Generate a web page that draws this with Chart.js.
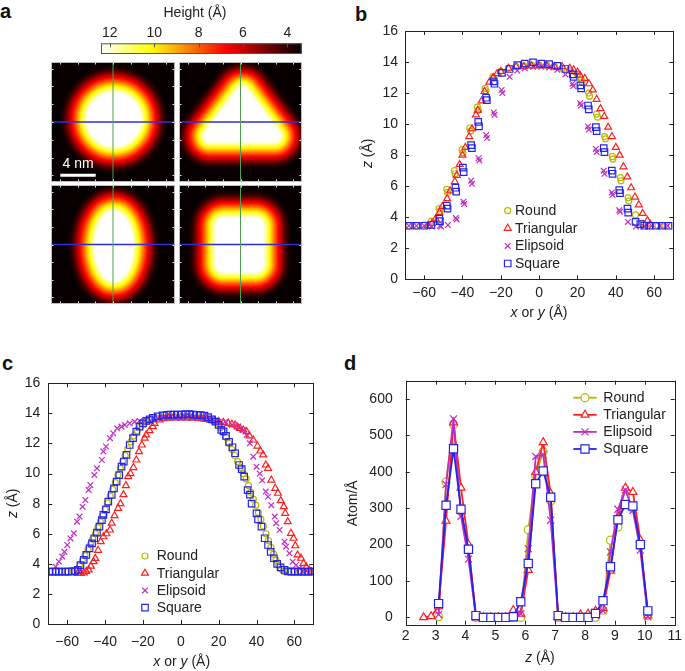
<!DOCTYPE html>
<html>
<head>
<meta charset="utf-8">
<script src="https://cdn.jsdelivr.net/npm/chart.js@4.4.1/dist/chart.umd.min.js"></script>
<style>
  body { margin: 0; background: #fff; }
  #fig { position: relative; width: 685px; height: 671px; overflow: hidden; }
  #fig canvas { position: absolute; }
  .lbl { position: absolute; font: bold 20px "Liberation Sans", Arial, sans-serif; line-height: 1; color: #111; }
</style>
</head>
<body>
<div id="fig">
  <div class="lbl" style="left:0px;top:1px">a</div>
  <div class="lbl" style="left:355px;top:4px">b</div>
  <div class="lbl" style="left:2px;top:353px">c</div>
  <div class="lbl" style="left:344px;top:353px">d</div>
  <canvas id="cbar" width="220" height="60" style="left:90px;top:0px;width:220px;height:60px"></canvas>
  <canvas id="map0" width="124" height="120" style="left:51px;top:62px;width:124px;height:120px"></canvas>
  <canvas id="map1" width="123" height="120" style="left:179px;top:62px;width:123px;height:120px"></canvas>
  <canvas id="map2" width="124" height="119" style="left:51px;top:185px;width:124px;height:119px"></canvas>
  <canvas id="map3" width="123" height="119" style="left:179px;top:185px;width:123px;height:119px"></canvas>
  <canvas id="chartB" width="345" height="330" style="left:340px;top:0px;width:345px;height:330px"></canvas>
  <canvas id="chartC" width="340" height="341" style="left:0px;top:330px;width:340px;height:341px"></canvas>
  <canvas id="chartD" width="345" height="341" style="left:340px;top:330px;width:345px;height:341px"></canvas>
</div>
<script>
const FONT = '"Liberation Sans", Arial, Helvetica, sans-serif';
const INK = "#222";

// ---------- panel a: colour bar + height maps ----------
const cbarMin = 3.35, cbarMax = 12.4;
const cbarTicks = [12, 10, 8, 6, 4];
const mapTicks = [-60, -40, -20, 0, 20, 40, 60];
// height (Å) against distance (Å) outside the white plateau, read from the Round profile
const edgeDist = [0, 4, 8, 12, 16, 20, 24, 28, 32];
const edgeHeight = [12.3, 11.0, 9.7, 8.3, 7.0, 5.75, 4.5, 3.75, 3.45];
const plateauHeight = 13.9;
// white-plateau outlines in Å (polygons get rounded by `round`)
const mapShapes = [
  { kind: "ellipse", cx: 1, cy: 3, rx: 30, ry: 30 },
  { kind: "polygon", pts: [[2, 33], [-35, -16], [39, -16]], round: 6 },
  { kind: "ellipse", cx: 1, cy: -2, rx: 21, ry: 39 },
  { kind: "polygon", pts: [[-19, 21], [17, 21], [17, -22], [-19, -22]], round: 9 },
];
const scaleBarX = [-59.5, -19.5];
const scaleBarY = -60;

// ---------- panel b ----------
const seriesNames = ["Round", "Triangular", "Elipsoid", "Square"];
const bRound = [[-68,3.45],[-64,3.45],[-60,3.5],[-56.2,3.75],[-52.2,4.55],[-51.8,4.4],[-48.2,5.8],[-47.8,5.6],[-44.2,7.0],[-43.8,6.8],[-40.2,8.35],[-39.8,8.15],[-36.2,9.75],[-35.8,9.55],[-32.2,11.1],[-31.8,10.9],[-28.2,12.3],[-27.8,12.15],[-24.2,13.05],[-23.8,12.95],[-20,13.4],[-16,13.6],[-12,13.7],[-8,13.75],[-4,13.8],[0,13.8],[4,13.8],[8,13.7],[12,13.6],[16,13.45],[20,13.2],[22,12.85],[22.4,12.7],[25.8,12.0],[26.3,11.8],[30,10.65],[30.5,10.45],[34.2,9.2],[34.6,9.05],[38.2,7.9],[38.5,7.75],[42.4,6.55],[42.7,6.35],[46.4,5.25],[46.8,5.05],[50.3,4.15],[54,3.6],[58,3.45],[62,3.45],[66,3.45]];
const bTri = [[-58,3.45],[-56,3.6],[-54,3.9],[-52,4.3],[-50.5,4.7],[-48,5.2],[-46.5,5.7],[-44,6.3],[-43,6.7],[-41.5,7.4],[-40,8.0],[-38.5,8.5],[-36.5,9.2],[-35,9.7],[-33,10.6],[-32,10.9],[-30,11.5],[-28.5,12.1],[-26,12.7],[-24,13.0],[-22,13.25],[-20,13.4],[-16,13.6],[-12,13.7],[-8,13.7],[-4,13.75],[0,13.75],[4,13.75],[8,13.7],[12,13.7],[16,13.6],[18,13.5],[20,13.35],[21.3,13.15],[23.8,12.95],[26,12.6],[28,12.2],[30,11.6],[32,11.0],[34,10.5],[36,9.8],[38,9.2],[40,8.5],[42,8.0],[44,7.25],[46,6.6],[48,5.9],[50,5.3],[52,4.8],[54,4.25],[56.5,3.8],[58,3.55]];
const bEll = [[-68,3.45],[-64,3.45],[-60,3.45],[-56,3.4],[-51.8,3.45],[-51.2,3.4],[-47.6,3.5],[-43.5,3.95],[-43.1,3.85],[-39.5,5.0],[-39.1,4.85],[-35.5,6.35],[-35.1,6.15],[-31.6,7.8],[-31.2,7.65],[-27.6,9.3],[-27.2,9.1],[-23.7,10.75],[-23.3,10.6],[-19.6,12.2],[-19.2,12.0],[-15.4,13.05],[-11.4,13.45],[-7.5,13.6],[-3.2,13.7],[1.1,13.7],[5.2,13.65],[9.5,13.5],[13.7,13.2],[17.4,12.6],[17.8,12.45],[21.4,11.35],[21.8,11.2],[25.5,9.85],[25.9,9.65],[29.6,8.4],[30,8.2],[33.7,7.0],[34.1,6.8],[37.9,5.6],[38.3,5.45],[41.8,4.45],[42.2,4.35],[46.3,3.7],[50.5,3.4],[54.8,3.4],[58.8,3.45],[63,3.45],[67,3.45]];
const bSq = [[-68,3.45],[-64,3.45],[-60,3.45],[-56.2,3.5],[-52.2,3.9],[-51.8,3.75],[-48.2,4.75],[-47.8,4.55],[-43.7,5.9],[-43.3,5.65],[-39.8,7.2],[-39.4,6.9],[-35.5,8.65],[-35.1,8.45],[-31.8,10.15],[-31.4,9.85],[-27.7,11.7],[-27.3,11.55],[-23.7,12.75],[-23.3,12.6],[-19.4,13.3],[-15.4,13.55],[-11.4,13.8],[-7.5,13.9],[-3.2,13.98],[1.1,13.9],[5.2,13.87],[9.5,13.75],[13.7,13.55],[17.6,13.2],[18,13.05],[21.5,12.5],[21.9,12.3],[25.5,11.2],[25.9,10.95],[29.6,9.8],[30,9.55],[33.7,8.45],[34.1,8.2],[37.9,7.0],[38.3,6.8],[41.8,5.75],[42.2,5.55],[46.1,4.55],[46.5,4.3],[50.3,3.7],[52.8,3.55],[54.8,3.45],[57.5,3.45],[61,3.45],[64,3.45],[67.5,3.45]];

// ---------- panel c ----------
const cRound = [[-69,3.48],[-66,3.48],[-63,3.48],[-60,3.48],[-57,3.5],[-54.8,3.62],[-53.5,3.85],[-52,4.2],[-50.6,4.55],[-49,4.95],[-47.7,5.3],[-46.5,5.65],[-45.1,6.0],[-43.8,6.4],[-42.5,6.8],[-41.2,7.2],[-40,7.6],[-38.8,8.05],[-37.3,8.5],[-36,8.95],[-34.6,9.4],[-33.2,9.9],[-32,10.35],[-30.7,10.8],[-29.4,11.2],[-28,11.65],[-26.4,12.1],[-24.8,12.5],[-23,12.85],[-21.3,13.1],[-19.5,13.3],[-17.5,13.45],[-15.5,13.55],[-12.5,13.65],[-9.5,13.7],[-6.5,13.72],[-3.5,13.75],[-0.5,13.75],[2.5,13.75],[5.5,13.75],[8.5,13.72],[11.5,13.7],[14.5,13.6],[17.5,13.5],[19.5,13.3],[21,13.05],[22.5,12.75],[24,12.4],[25.5,12.0],[27,11.6],[28.5,11.2],[30,10.8],[31.5,10.4],[33,10.0],[34.5,9.65],[35.8,9.2],[37,8.75],[38.3,8.3],[39.6,7.9],[41,7.4],[42.3,6.95],[43.6,6.5],[45,6.0],[46.3,5.55],[47.6,5.1],[49,4.65],[50.3,4.25],[51.7,3.9],[53,3.65],[54.5,3.5],[57,3.48],[60,3.48],[63,3.48],[66,3.48],[69,3.48]];
const cTri = [[-54.5,3.37],[-53,3.37],[-51.3,3.4],[-50,3.5],[-48.7,3.6],[-47.5,3.85],[-46.1,4.14],[-45.2,4.36],[-43.7,4.9],[-42.3,5.47],[-40.9,5.8],[-39.3,6.0],[-37.4,6.25],[-36.5,6.7],[-35,7.2],[-33.1,7.69],[-31.9,8.0],[-30.3,8.6],[-29,9.2],[-27.8,9.8],[-26.6,10.0],[-25,10.4],[-23.5,10.9],[-22.1,11.46],[-20.6,11.9],[-19.1,12.35],[-18.3,12.57],[-16.5,12.85],[-14.8,13.12],[-13.9,13.34],[-11.3,13.56],[-9,13.65],[-6.5,13.7],[-4,13.72],[-1.5,13.72],[1,13.72],[3.5,13.72],[6,13.7],[8.5,13.7],[11,13.65],[13.5,13.6],[16,13.55],[18,13.5],[20,13.45],[22.5,13.4],[25.2,13.34],[27,13.28],[28.7,13.23],[30,13.1],[31.3,13.0],[33,12.9],[34.8,12.79],[36.3,12.5],[38.3,12.23],[40.5,11.83],[42,11.5],[43.5,11.24],[44.9,10.57],[46.1,10.35],[47.8,9.57],[49.9,9.02],[51.3,8.69],[52.8,8.2],[54.4,7.8],[55.2,7.36],[56.5,6.8],[58.2,6.03],[59.6,5.7],[60.5,5.2],[61.7,4.59],[63.5,4.37],[64.8,4.03],[66.3,3.8],[67.8,3.6],[69.1,3.48]];
const cEll = [[-66.1,3.81],[-64.4,4.14],[-62.6,4.48],[-61.5,4.8],[-60,5.25],[-58.3,5.69],[-56.5,6.03],[-54.8,6.8],[-53.5,7.14],[-51.9,7.8],[-50.4,8.24],[-48.7,8.91],[-47.8,9.24],[-45.7,9.9],[-44.3,10.35],[-41.7,10.9],[-40.9,11.46],[-39.5,11.8],[-37.4,12.35],[-35.7,12.68],[-33.6,13.01],[-31.3,13.12],[-29.6,13.23],[-27,13.34],[-24.4,13.45],[-21.8,13.5],[-18.3,13.56],[-15,13.65],[-12,13.68],[-9,13.7],[-6,13.7],[-3,13.7],[0,13.7],[3,13.7],[6,13.7],[9,13.68],[12,13.65],[15,13.6],[18,13.5],[20,13.45],[23.5,13.45],[27,13.23],[30.4,13.12],[33,12.9],[34.8,12.57],[36.5,12.01],[38.3,11.12],[40,10.46],[41.7,10.0],[43,9.55],[44.9,8.8],[46.1,8.46],[47.8,7.9],[49.6,7.14],[50.4,6.7],[52.2,6.25],[54.8,5.47],[55.6,5.14],[57.4,4.7],[59.1,4.14],[60.9,3.92],[62.6,3.7],[64.3,3.5]];
const cSq = [[-69.5,3.48],[-67.8,3.48],[-66.1,3.48],[-64.4,3.48],[-62.7,3.48],[-61,3.48],[-59.3,3.48],[-57.6,3.5],[-55.9,3.52],[-54.4,3.6],[-53,3.92],[-51.3,4.26],[-49.9,4.59],[-48.2,5.03],[-46.9,5.36],[-45.7,5.7],[-44.3,6.07],[-43,6.47],[-41.7,6.9],[-40.9,7.25],[-39.5,7.62],[-38.3,8.13],[-36.5,8.58],[-35.3,9.02],[-33.9,9.46],[-32.5,9.9],[-31.3,10.46],[-30.1,10.8],[-28.7,11.24],[-27,11.9],[-25.2,12.35],[-23.5,12.79],[-21.8,13.12],[-20,13.34],[-18.3,13.5],[-16.5,13.6],[-14.8,13.7],[-12.2,13.8],[-9.6,13.87],[-7.5,13.9],[-5.5,13.92],[-3.5,13.92],[-1.5,13.92],[0.5,13.92],[2.5,13.95],[4.5,13.95],[6.5,13.92],[8.5,13.9],[10.5,13.88],[12.5,13.85],[14.5,13.75],[16.5,13.6],[18.3,13.45],[20,13.23],[21.4,12.9],[22.6,12.8],[23.9,12.5],[25.5,12.1],[27.3,11.75],[28.7,11.35],[30.8,10.57],[32.2,10.3],[33.5,9.8],[35.3,8.9],[36.5,8.6],[37.4,8.0],[40,7.36],[40.8,6.96],[42.6,6.47],[44.3,5.7],[46.1,5.25],[47.5,4.8],[49.2,4.37],[50.9,4.0],[52.7,3.77],[54.8,3.6],[56.6,3.5],[58.4,3.48],[60.2,3.48],[62,3.48],[63.8,3.48],[65.6,3.48],[67.4,3.48],[69.2,3.48]];
const xyTicksX = [-60, -40, -20, 0, 20, 40, 60];
const xyTicksY = [0, 2, 4, 6, 8, 10, 12, 14, 16];

// ---------- panel d ----------
const dZ = [2.6, 2.85, 3.1, 3.35, 3.6, 3.85, 4.1, 4.35, 4.6, 4.85, 5.1, 5.35, 5.6, 5.85, 6.1, 6.35, 6.6, 6.85, 7.1, 7.35, 7.6, 7.85, 8.1, 8.35, 8.6, 8.85, 9.1, 9.35, 9.6, 9.85, 10.1];
const dRound = [null, null, 2, 372, 530, 290, 190, 0, 0, 0, 0, 0, 0, 0, 241, 390, 455, 320, 0, 0, 0, 0, 0, 0, 20, 212, 248, 330, 300, 195, 5];
const dTri = [0, 3, 30, 265, 535, 356, 200, 0, 0, 0, 0, 0, 20, 10, 130, 399, 481, 340, 0, 0, 0, 8, 10, 18, 25, 128, 275, 356, 344, 212, 5];
const dEll = [null, null, 8, 365, 545, 278, 160, 0, 0, 0, 0, 0, 0, 10, 189, 442, 447, 267, 0, 0, 0, 0, 0, 5, 18, 180, 297, 350, 294, 185, 2];
const dSq = [null, null, 38, 308, 463, 297, 187, 5, 0, 0, 0, 0, 2, 43, 148, 367, 402, 330, 5, 0, 0, 0, 0, 11, 46, 139, 268, 310, 306, 200, 18];
const dTicksX = [2, 3, 4, 5, 6, 7, 8, 9, 10, 11];
const dTicksY = [0, 100, 200, 300, 400, 500, 600];

// ---------- helpers ----------
const clamp = (v, a, b) => Math.max(a, Math.min(b, v));
function hot(t) {
  t = clamp(t, 0, 1);
  const r = clamp(t / 0.375, 0, 1), g = clamp((t - 0.375) / 0.375, 0, 1), b = clamp((t - 0.75) / 0.25, 0, 1);
  return `rgb(${Math.round(r * 255)},${Math.round(g * 255)},${Math.round(b * 255)})`;
}
const heightColor = h => hot((h - cbarMin) / (cbarMax - cbarMin));
function edgeH(d) {
  for (let i = 1; i < edgeDist.length; i++) {
    if (d <= edgeDist[i]) {
      const f = (d - edgeDist[i - 1]) / (edgeDist[i] - edgeDist[i - 1]);
      return edgeHeight[i - 1] + f * (edgeHeight[i] - edgeHeight[i - 1]);
    }
  }
  return edgeHeight[edgeHeight.length - 1];
}
const fmt = v => (v < 0 ? "\u2212" + Math.abs(v) : String(v));
const toXY = arr => arr.map(([x, y]) => ({ x, y }));
const zipZ = vals => dZ.map((z, i) => (vals[i] == null ? null : { x: z, y: vals[i] })).filter(Boolean);
const fixTicks = list => s => { s.ticks = list.map(v => ({ value: v })); };

function drawRich(ctx, item) {
  ctx.save();
  ctx.translate(item.x, item.y);
  if (item.rot) ctx.rotate(item.rot);
  const fonts = item.parts.map(p => `${p.i ? "italic " : ""}${item.size || 14}px ${FONT}`);
  const widths = item.parts.map((p, k) => { ctx.font = fonts[k]; return ctx.measureText(p.t).width; });
  let x = -widths.reduce((a, b) => a + b, 0) / 2;
  ctx.fillStyle = item.color || INK;
  ctx.textBaseline = "middle";
  item.parts.forEach((p, k) => { ctx.font = fonts[k]; ctx.fillText(p.t, x, 0); x += widths[k]; });
  ctx.restore();
}
const richText = {
  id: "richText",
  afterDraw(chart, args, o) { (o.items || []).forEach(it => drawRich(chart.ctx, it)); }
};

// ---------- colour bar ----------
new Chart(document.getElementById("cbar"), {
  type: "scatter",
  data: { datasets: [] },
  options: {
    responsive: false, animation: false, events: [],
    layout: { padding: { left: 11, right: 8.3, top: 0, bottom: 6 } },
    plugins: {
      legend: { display: false }, tooltip: { enabled: false },
      richText: { items: [{ x: 105, y: 13, parts: [{ t: "Height (Å)" }] }] }
    },
    scales: {
      x: {
        type: "linear", position: "top", reverse: true, min: cbarMin, max: cbarMax,
        afterBuildTicks: fixTicks(cbarTicks),
        afterFit: s => { s.height = 43.3; },
        grid: { display: false, drawTicks: false }, border: { display: false },
        ticks: { font: { family: FONT, size: 14 }, color: INK, padding: 2, autoSkip: false, maxRotation: 0 }
      },
      y: { display: false, min: 0, max: 1 }
    }
  },
  plugins: [richText, {
    id: "cbarFill",
    afterDraw(chart) {
      const { ctx, chartArea: a, scales: { x } } = chart;
      const g = ctx.createLinearGradient(a.left, 0, a.right, 0);
      for (let i = 0; i <= 60; i++) {
        const h = cbarMin + (cbarMax - cbarMin) * i / 60;
        g.addColorStop(clamp((x.getPixelForValue(h) - a.left) / a.width, 0, 1), heightColor(h));
      }
      ctx.save();
      ctx.fillStyle = g;
      ctx.fillRect(a.left, a.top, a.width, a.height);
      ctx.strokeStyle = "#555"; ctx.lineWidth = 1;
      ctx.strokeRect(a.left + 0.5, a.top + 0.5, a.width - 1, a.height - 1);
      ctx.beginPath();
      cbarTicks.forEach(v => {
        const px = Math.round(x.getPixelForValue(v)) + 0.5;
        ctx.moveTo(px, a.top); ctx.lineTo(px, a.top + 4);
      });
      ctx.stroke();
      ctx.restore();
    }
  }]
});

// ---------- height maps ----------
const heatPlugin = {
  id: "heat",
  beforeDatasetsDraw(chart, args, o) {
    const shape = o.shape;
    const { ctx, chartArea: a, scales: { x, y } } = chart;
    const k = Math.abs(x.getPixelForValue(10) - x.getPixelForValue(0)) / 10;
    const path = () => {
      ctx.beginPath();
      if (shape.kind === "ellipse") {
        ctx.ellipse(x.getPixelForValue(shape.cx), y.getPixelForValue(shape.cy), shape.rx * k, shape.ry * k, 0, 0, Math.PI * 2);
      } else {
        shape.pts.forEach(([px, py], i) => {
          const X = x.getPixelForValue(px), Y = y.getPixelForValue(py);
          if (i) ctx.lineTo(X, Y); else ctx.moveTo(X, Y);
        });
        ctx.closePath();
      }
    };
    const r0 = shape.round || 0;
    ctx.save();
    ctx.beginPath(); ctx.rect(a.left, a.top, a.width, a.height); ctx.clip();
    ctx.fillStyle = heightColor(edgeHeight[edgeHeight.length - 1]);
    ctx.fillRect(a.left, a.top, a.width, a.height);
    ctx.filter = "blur(1px)";
    ctx.lineJoin = "round";
    for (let d = edgeDist[edgeDist.length - 1]; d >= 0; d -= 0.5) {
      ctx.fillStyle = ctx.strokeStyle = heightColor(edgeH(d));
      ctx.lineWidth = 2 * (r0 + d) * k;
      path(); ctx.fill(); ctx.stroke();
    }
    ctx.fillStyle = ctx.strokeStyle = heightColor(plateauHeight);
    path(); ctx.fill();
    if (r0 > 0) { ctx.lineWidth = 2 * r0 * k; ctx.stroke(); }
    ctx.restore();
  },
  afterDraw(chart, args, o) {
    const { ctx, chartArea: a, scales: { x, y } } = chart;
    ctx.save();
    ctx.strokeStyle = "#e8e8e8"; ctx.lineWidth = 1;
    ctx.beginPath();
    mapTicks.forEach(v => {
      const px = Math.round(x.getPixelForValue(v)) + 0.5, py = Math.round(y.getPixelForValue(v)) + 0.5;
      ctx.moveTo(px, a.top); ctx.lineTo(px, a.top + 2.5);
      ctx.moveTo(px, a.bottom); ctx.lineTo(px, a.bottom - 2.5);
      ctx.moveTo(a.left, py); ctx.lineTo(a.left + 2.5, py);
      ctx.moveTo(a.right, py); ctx.lineTo(a.right - 2.5, py);
    });
    ctx.stroke();
    ctx.strokeStyle = "#bdbdbd";
    ctx.strokeRect(a.left + 0.5, a.top + 0.5, a.width - 1, a.height - 1);
    ctx.restore();
    if (o.label) {
      drawRich(ctx, { x: x.getPixelForValue(o.label.x), y: y.getPixelForValue(o.label.y), parts: [{ t: o.label.text }], color: "#fff", size: 14 });
    }
  }
};

mapShapes.forEach((shape, i) => {
  const datasets = [
    { data: [{ x: 0, y: -67.5 }, { x: 0, y: 67.5 }], borderColor: "#4f9f4f", borderWidth: 1 },
    { data: [{ x: -70, y: 0 }, { x: 70, y: 0 }], borderColor: "#2f2fd6", borderWidth: 1.5 }
  ];
  if (i === 0) {
    datasets.push({ data: scaleBarX.map(v => ({ x: v, y: scaleBarY })), borderColor: "#ffffff", borderWidth: 3 });
  }
  datasets.forEach(ds => { ds.showLine = true; ds.pointRadius = 0; ds.fill = false; });
  new Chart(document.getElementById("map" + i), {
    type: "scatter",
    data: { datasets },
    options: {
      responsive: false, animation: false, events: [],
      layout: { padding: 0 },
      plugins: {
        legend: { display: false }, tooltip: { enabled: false },
        heat: { shape, label: i === 0 ? { text: "4 nm", x: -39.5, y: -47 } : null }
      },
      scales: {
        x: { display: false, min: -70, max: 70 },
        y: { display: false, min: -67.5, max: 67.5 }
      }
    },
    plugins: [heatPlugin]
  });
});

// ---------- profile charts (b, c, d) ----------
const frameTicks = {
  id: "frameTicks",
  afterDraw(chart, args, o) {
    const { ctx, chartArea: a, scales: { x, y } } = chart;
    ctx.save();
    ctx.strokeStyle = INK; ctx.lineWidth = 1;
    ctx.beginPath();
    x.ticks.forEach(t => {
      const px = Math.round(x.getPixelForValue(t.value)) + 0.5;
      ctx.moveTo(px, a.bottom); ctx.lineTo(px, a.bottom - o.len);
      ctx.moveTo(px, a.top); ctx.lineTo(px, a.top + o.len);
    });
    y.ticks.forEach(t => {
      const py = Math.round(y.getPixelForValue(t.value)) + 0.5;
      ctx.moveTo(a.left, py); ctx.lineTo(a.left + o.len, py);
      ctx.moveTo(a.right, py); ctx.lineTo(a.right - o.len, py);
    });
    ctx.stroke();
    ctx.strokeRect(Math.round(a.left) + 0.5, Math.round(a.top) + 0.5, Math.round(a.width), Math.round(a.height));
    ctx.restore();
  }
};

const insideLegend = {
  id: "insideLegend",
  afterDraw(chart, args, o) {
    const ctx = chart.ctx;
    chart.data.datasets.forEach((ds, i) => {
      const yy = o.y + i * o.dy;
      ctx.save();
      ctx.strokeStyle = ds.borderColor;
      if (o.line) {
        ctx.lineWidth = ds.borderWidth;
        ctx.beginPath(); ctx.moveTo(o.x - o.line, yy); ctx.lineTo(o.x + o.line, yy); ctx.stroke();
      }
      ctx.fillStyle = ds.pointBackgroundColor;
      ctx.lineWidth = ds.pointBorderWidth;
      Chart.helpers.drawPoint(ctx, { pointStyle: ds.pointStyle, radius: ds.pointRadius, borderWidth: ds.pointBorderWidth, rotation: 0 }, o.x, yy);
      ctx.fillStyle = INK;
      ctx.font = `14px ${FONT}`;
      ctx.textBaseline = "middle";
      ctx.fillText(ds.label, o.textX, yy + 0.5);
      ctx.restore();
    });
  }
};

const seriesStyle = [
  { color: "#b8b800", pointStyle: "circle", order: 4 },
  { color: "#ff1f1f", pointStyle: "triangle", order: 3 },
  { color: "#c02cc4", pointStyle: "crossRot", order: 2 },
  { color: "#2424ee", pointStyle: "rect", order: 1 }
];

function makeSets(seriesData, radii, opts) {
  return seriesData.map((data, i) => ({
    label: seriesNames[i],
    data,
    order: seriesStyle[i].order,
    borderColor: seriesStyle[i].color,
    pointBorderColor: seriesStyle[i].color,
    pointBackgroundColor: opts.fill,
    backgroundColor: opts.fill,
    pointStyle: seriesStyle[i].pointStyle,
    pointRadius: radii[i],
    pointBorderWidth: opts.pw,
    borderWidth: opts.lw,
    showLine: opts.line,
    spanGaps: true
  }));
}

function profileChart(id, cfg) {
  const cv = document.getElementById(id);
  const W = cv.width, H = cv.height;
  const [L, T, R, B] = cfg.area;
  const tickFont = { family: FONT, size: 14 };
  return new Chart(cv, {
    type: "scatter",
    data: { datasets: cfg.datasets },
    options: {
      responsive: false, animation: false, events: [],
      layout: { padding: { left: 0, top: T, right: W - R, bottom: 0 } },
      plugins: {
        legend: { display: false }, tooltip: { enabled: false },
        insideLegend: cfg.legend,
        richText: { items: cfg.titles },
        frameTicks: { len: 4 }
      },
      scales: {
        x: {
          type: "linear", min: cfg.x[0], max: cfg.x[1],
          afterBuildTicks: fixTicks(cfg.xTicks),
          afterFit: s => { s.height = H - B; },
          grid: { display: false, drawTicks: false }, border: { display: false },
          ticks: { font: tickFont, color: INK, padding: cfg.xPad, autoSkip: false, maxRotation: 0, callback: fmt }
        },
        y: {
          type: "linear", min: cfg.y[0], max: cfg.y[1],
          afterBuildTicks: fixTicks(cfg.yTicks),
          afterFit: s => { s.width = L; },
          grid: { display: false, drawTicks: false }, border: { display: false },
          ticks: { font: tickFont, color: INK, padding: cfg.yPad, autoSkip: false, callback: fmt }
        }
      }
    },
    plugins: [frameTicks, insideLegend, richText]
  });
}

const xyTitle = [{ t: "x", i: true }, { t: " or " }, { t: "y", i: true }, { t: " (Å)" }];
const zTitle = [{ t: "z", i: true }, { t: " (Å)" }];

profileChart("chartB", {
  area: [65, 31, 333.3, 279.3],
  x: [-70, 70], y: [0, 16], xTicks: xyTicksX, yTicks: xyTicksY, xPad: 5, yPad: 7,
  datasets: makeSets([bRound, bTri, bEll, bSq].map(toXY), [3, 4, 4, 4.6], { fill: "rgba(0,0,0,0)", pw: 1.2, lw: 1, line: false }),
  legend: { x: 167.7, textX: 175, y: 210.7, dy: 17.6 },
  titles: [
    { x: 199, y: 313.3, parts: xyTitle },
    { x: 28.3, y: 153.3, rot: -Math.PI / 2, parts: zTitle }
  ]
});

profileChart("chartC", {
  area: [48.3, 53.3, 313.3, 294],
  x: [-70, 70], y: [0, 16], xTicks: xyTicksX, yTicks: xyTicksY, xPad: 10, yPad: 8,
  datasets: makeSets([cRound, cTri, cEll, cSq].map(toXY), [3, 4, 4, 4.6], { fill: "rgba(0,0,0,0)", pw: 1.2, lw: 1, line: false }),
  legend: { x: 145, textX: 156.7, y: 226, dy: 17.2 },
  titles: [
    { x: 181.7, y: 331.7, parts: xyTitle },
    { x: 13.3, y: 173.3, rot: -Math.PI / 2, parts: zTitle }
  ]
});

profileChart("chartD", {
  area: [65.7, 50.7, 336.6, 294.7],
  x: [2, 11], y: [-20, 650], xTicks: dTicksX, yTicks: dTicksY, xPad: 3, yPad: 13,
  datasets: makeSets([dRound, dTri, dEll, dSq].map(zipZ), [4, 4.6, 5, 5.8], { fill: "#ffffff", pw: 1.2, lw: 1.8, line: true }),
  legend: { x: 245, textX: 263.3, y: 67.7, dy: 17.1, line: 11.7 },
  titles: [
    { x: 200, y: 328.3, parts: [{ t: "z", i: true }, { t: " (Å)" }] },
    { x: 13.3, y: 173.3, rot: -Math.PI / 2, parts: [{ t: "Atom/Å" }] }
  ]
});
</script>
</body>
</html>
